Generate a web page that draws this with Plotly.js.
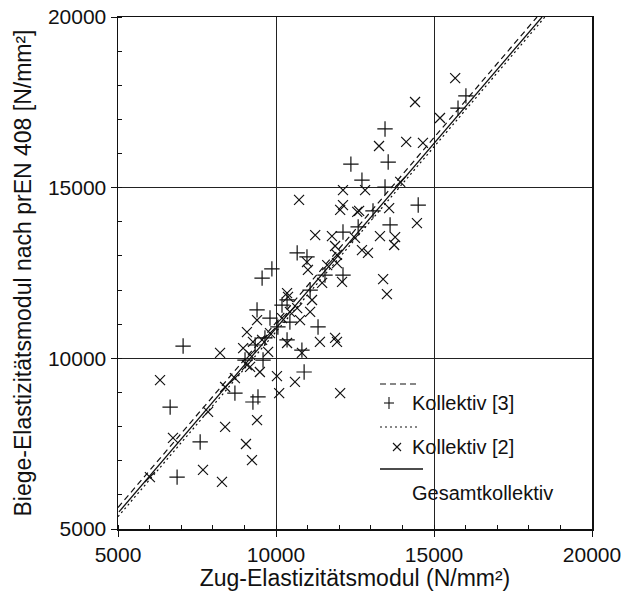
<!DOCTYPE html>
<html><head><meta charset="utf-8">
<script src="https://cdn.plot.ly/plotly-3.0.1.min.js"></script>
<style>html,body{margin:0;padding:0;background:#fff}</style>
</head><body><div id="chart" style="width:626px;height:591px"></div>
<script>
// Kollektiv [3] (plus markers)
const k3X = [16010,15760,13450,13550,12370,12720,13450,14500,13070,13610,12600,12120,10980,10670,12120,9870,9560,9400,10350,11330,10060,10350,10820,9590,10890,7060,6650,8700,9270,9430,7600,6870,9020,9650,9340,10440,9810,10190,11550,11080];
const k3Y = [17690,17330,16720,15750,15690,15220,15020,14490,14320,13910,13850,13700,12970,13090,12440,12620,12350,11420,11710,10920,10920,10540,10240,9950,9600,10360,8570,8980,8720,8870,7550,6520,9950,10600,10390,11060,11180,11560,12440,12000];
// Kollektiv [2] (x markers)
const k2X = [15670,14400,15190,13260,14120,14650,13930,12120,12820,10730,12120,12030,12630,13580,14460,13290,13770,13740,12500,11240,11770,11870,12720,12910,11930,10980,11930,11620,11010,12090,11460,13390,13510,10380,10350,11080,9400,10190,9080,9270,8960,9180,9180,11390,11870,11930,10820,10350,8230,6330,10030,10600,10100,12030,9400,8390,7850,6740,9050,9240,7690,8290,6010,8390,9080,8700,9560,9810,10440,10670,12570,9490,9750,11140,10760];
const k2Y = [18210,17510,17040,16220,16340,16310,15170,14930,14930,14640,14490,14350,14320,14400,13960,13580,13550,13320,13530,13610,13580,13290,13170,13090,13030,12820,12790,12730,12590,12240,12210,12320,11880,11800,11910,11360,11120,11180,10770,10480,10300,10100,9750,10480,10600,10480,10160,10450,10160,9360,9480,9310,8980,8980,8190,7990,8430,7670,7490,7020,6730,6380,6520,9160,9800,9420,10540,10740,11360,11470,14290,9600,10190,11710,11120];
// regression lines
const fitK3X = [5000, 18260], fitK3Y = [5630, 20000];
const fitK2X = [5000, 18510], fitK2Y = [5360, 20000];
const fitAllX = [5030, 18420], fitAllY = [5500, 20000];
const axisTicks = [5000, 10000, 15000, 20000];
const legendLabels = ['Kollektiv [3]', 'Kollektiv [2]', 'Gesamtkollektiv'];

const FONT = 'Liberation Sans, Arial, sans-serif';
const traces = [
  {x: fitK3X, y: fitK3Y, mode: 'lines', line: {color: '#111', width: 1.2, dash: '6px,4px'}, hoverinfo: 'skip'},
  {x: fitK2X, y: fitK2Y, mode: 'lines', line: {color: '#111', width: 1.2, dash: '2px,3px'}, hoverinfo: 'skip'},
  {x: fitAllX, y: fitAllY, mode: 'lines', line: {color: '#111', width: 1.3}, hoverinfo: 'skip'},
  {x: k3X, y: k3Y, mode: 'markers', marker: {symbol: 'cross-thin-open', size: 11, color: '#111', line: {width: 1.2, color: '#111'}}},
  {x: k2X, y: k2Y, mode: 'markers', marker: {symbol: 'x-thin-open', size: 10, color: '#111', line: {width: 1.2, color: '#111'}}}
];

// legend helpers (paper coords)
const px = v => (v - 118) / 474, py = v => (529 - v) / 512;
const shapes = [
  {type: 'line', xref: 'paper', yref: 'paper', x0: px(380), x1: px(420), y0: py(384), y1: py(384), line: {color: '#111', width: 1.2, dash: '6px,4px'}},
  {type: 'line', xref: 'paper', yref: 'paper', x0: px(384), x1: px(394), y0: py(403), y1: py(403), line: {color: '#111', width: 1.1}},
  {type: 'line', xref: 'paper', yref: 'paper', x0: px(389), x1: px(389), y0: py(397), y1: py(409), line: {color: '#111', width: 1.1}},
  {type: 'line', xref: 'paper', yref: 'paper', x0: px(380), x1: px(420), y0: py(427), y1: py(427), line: {color: '#111', width: 1.2, dash: '2px,3px'}},
  {type: 'line', xref: 'paper', yref: 'paper', x0: px(393), x1: px(401), y0: py(443), y1: py(451), line: {color: '#111', width: 1.1}},
  {type: 'line', xref: 'paper', yref: 'paper', x0: px(393), x1: px(401), y0: py(451), y1: py(443), line: {color: '#111', width: 1.1}},
  {type: 'line', xref: 'paper', yref: 'paper', x0: px(380), x1: px(423), y0: py(469), y1: py(469), line: {color: '#111', width: 1.3}}
];
const legendY = [403, 447, 493];
const annotations = legendLabels.map((t, i) => ({
  text: t, xref: 'paper', yref: 'paper', x: px(410), y: py(legendY[i]),
  xanchor: 'left', yanchor: 'middle', showarrow: false, font: {family: FONT, size: 20, color: '#111'}
}));

const axisCommon = {
  range: [5000, 20000], tickvals: axisTicks, ticktext: axisTicks.map(String),
  ticks: 'outside', ticklen: 6, tickcolor: '#111', tickwidth: 1,
  showline: true, mirror: true, linecolor: '#111', linewidth: 1.5,
  showgrid: true, gridcolor: '#222', gridwidth: 1, zeroline: false,
  tickfont: {family: FONT, size: 21, color: '#111'},
  minor: {dtick: 1000, tick0: 5000, ticks: 'inside', ticklen: 4, tickcolor: '#111', showgrid: false},
  fixedrange: true
};
const layout = {
  width: 626, height: 591,
  margin: {l: 118, r: 34, t: 17, b: 62},
  paper_bgcolor: '#fff', plot_bgcolor: '#fff',
  showlegend: false,
  font: {family: FONT, color: '#111'},
  xaxis: Object.assign({}, axisCommon, {title: {text: 'Zug-Elastizitätsmodul (N/mm²)', font: {family: FONT, size: 23, color: '#111'}, standoff: 6}}),
  yaxis: Object.assign({}, axisCommon, {title: {text: 'Biege-Elastizitätsmodul nach prEN 408 [N/mm²]', font: {family: FONT, size: 23, color: '#111'}, standoff: 10}}),
  shapes: shapes,
  annotations: annotations
};
Plotly.newPlot('chart', traces, layout, {displayModeBar: false, staticPlot: true});
</script></body></html>
